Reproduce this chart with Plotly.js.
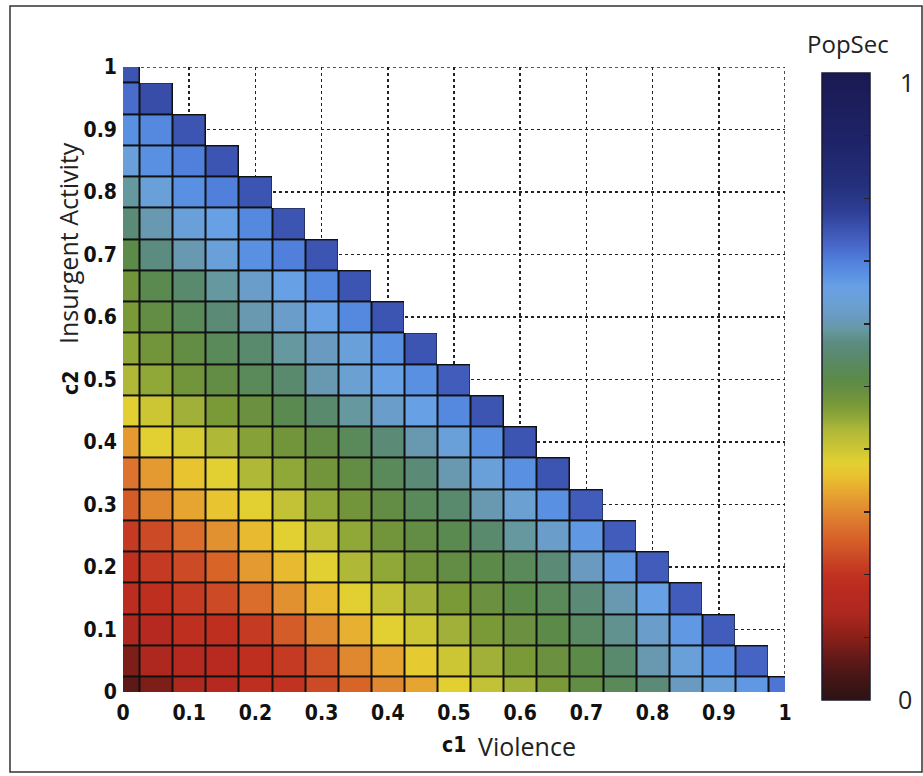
<!DOCTYPE html>
<html><head><meta charset="utf-8">
<script src="https://cdn.plot.ly/plotly-3.0.1.min.js"></script>
<style>html,body{margin:0;padding:0;background:#fff;overflow:hidden}#chart{width:923px;height:776px}</style>
</head><body><div id="chart"></div>
<script>
// c1 = Violence (x), c2 = Insurgent Activity (y)
const c1Values = [0,0.05,0.1,0.15,0.2,0.25,0.3,0.35,0.4,0.45,0.5,0.55,0.6,0.65,0.7,0.75,0.8,0.85,0.9,0.95,1];
const c2Values = [0,0.05,0.1,0.15,0.2,0.25,0.3,0.35,0.4,0.45,0.5,0.55,0.6,0.65,0.7,0.75,0.8,0.85,0.9,0.95,1];
const axisTickVals = [0,0.1,0.2,0.3,0.4,0.5,0.6,0.7,0.8,0.9,1];
const axisTickText = ['0','0.1','0.2','0.3','0.4','0.5','0.6','0.7','0.8','0.9','1'];
const colorbarTickVals = [0,0.1,0.2,0.3,0.4,0.5,0.6,0.7,0.8,0.9,1];

// PopSec values, one row per c2 value (c2 = 0 first), columns follow c1 from 0
const popSecRows = [
  [0.06,0.09,0.14,0.16,0.19,0.20,0.23,0.26,0.30,0.33,0.38,0.41,0.44,0.47,0.50,0.53,0.56,0.61,0.64,0.67,0.71],
  [0.09,0.14,0.16,0.17,0.19,0.21,0.24,0.30,0.33,0.37,0.40,0.44,0.47,0.49,0.51,0.55,0.60,0.64,0.68,0.73],
  [0.14,0.16,0.19,0.19,0.21,0.25,0.30,0.34,0.38,0.40,0.44,0.47,0.49,0.51,0.54,0.58,0.62,0.67,0.74],
  [0.18,0.19,0.21,0.23,0.27,0.31,0.35,0.38,0.41,0.44,0.47,0.49,0.51,0.53,0.56,0.60,0.66,0.74],
  [0.19,0.21,0.23,0.26,0.32,0.35,0.38,0.43,0.45,0.48,0.50,0.51,0.53,0.56,0.61,0.67,0.74],
  [0.21,0.23,0.27,0.31,0.35,0.38,0.41,0.45,0.48,0.50,0.52,0.55,0.59,0.62,0.67,0.74],
  [0.25,0.30,0.33,0.36,0.38,0.41,0.45,0.48,0.50,0.53,0.55,0.60,0.63,0.68,0.74],
  [0.28,0.32,0.36,0.38,0.43,0.45,0.48,0.50,0.53,0.56,0.60,0.64,0.68,0.75],
  [0.32,0.38,0.39,0.43,0.46,0.48,0.50,0.53,0.56,0.60,0.64,0.68,0.75],
  [0.38,0.40,0.44,0.47,0.49,0.52,0.55,0.59,0.62,0.66,0.69,0.75],
  [0.43,0.45,0.48,0.50,0.53,0.55,0.60,0.63,0.66,0.68,0.74],
  [0.45,0.48,0.50,0.53,0.55,0.59,0.61,0.64,0.68,0.75],
  [0.47,0.50,0.53,0.56,0.60,0.62,0.66,0.69,0.75],
  [0.48,0.52,0.55,0.59,0.62,0.66,0.69,0.75],
  [0.51,0.57,0.60,0.64,0.68,0.70,0.75],
  [0.56,0.60,0.64,0.66,0.69,0.75],
  [0.59,0.64,0.68,0.70,0.75],
  [0.64,0.68,0.70,0.75],
  [0.68,0.69,0.75],
  [0.72,0.76],
  [0.75]
];

const popSecScale = [
  [0.00,'#2e1214'],[0.04,'#481616'],[0.07,'#661a18'],[0.10,'#8a2018'],[0.14,'#ae2820'],
  [0.17,'#b82a20'],[0.20,'#c23220'],[0.22,'#c84224'],[0.24,'#d05428'],[0.26,'#d86428'],
  [0.28,'#dc7430'],[0.30,'#e08830'],[0.32,'#e49a30'],[0.34,'#e8b030'],[0.36,'#e8c430'],
  [0.38,'#e2d032'],[0.40,'#ccc634'],[0.43,'#b0b838'],[0.45,'#90a838'],[0.47,'#7a9a38'],
  [0.49,'#6a9040'],[0.51,'#5c8a48'],[0.53,'#5a8a5a'],[0.55,'#5a8a6e'],[0.57,'#5c8c80'],
  [0.59,'#6698a0'],[0.61,'#6a9ac0'],[0.63,'#6aa0d2'],[0.66,'#68a0e6'],[0.68,'#5a90e2'],
  [0.70,'#5080dc'],[0.72,'#4a6ccc'],[0.75,'#3c54b2'],[0.78,'#2e3e94'],[0.82,'#24307c'],
  [0.90,'#1e2266'],[1.00,'#1a1a52']
];

const z = popSecRows.map(r => c1Values.map((_, i) => i < r.length ? r[i] : null));
const zOutline = z.map(r => r.map(v => v === null ? null : 1));

const L = 123, R = 785, T = 67, B = 692;
const pw = R - L, ph = B - T;
const px = x => (x - L) / pw;
const py = y => (B - y) / ph;
const cbTop = 73, cbBot = 700, cbLeft = 822, cbThick = 48;

const tickFont = {family: "'DejaVu Sans Condensed', 'DejaVu Sans', sans-serif", size: 21, weight: 'bold', color: '#111'};
const labelFont = {family: "'Open Sans', sans-serif", size: 25, color: '#222'};

const traces = [
  {type: 'heatmap', x: c1Values, y: c2Values, z: zOutline, zmin: 0, zmax: 1,
   colorscale: [[0, '#111'], [1, '#111']], showscale: false, hoverinfo: 'skip'},
  {type: 'heatmap', x: c1Values, y: c2Values, z: z, zmin: 0, zmax: 1,
   colorscale: popSecScale, xgap: 2, ygap: 2,
   colorbar: {
     x: px(cbLeft), xanchor: 'left', xpad: 0, thickness: cbThick, thicknessmode: 'pixels',
     len: (cbBot - cbTop) / ph, lenmode: 'fraction', y: py((cbTop + cbBot) / 2), yanchor: 'middle', ypad: 0,
     outlinewidth: 1.5, outlinecolor: '#1a1a30',
     tickmode: 'array', tickvals: colorbarTickVals, ticktext: colorbarTickVals.map(() => ''),
     ticks: 'inside', ticklen: 6, tickwidth: 1.5, tickcolor: '#222'
   }}
];

const shapes = colorbarTickVals.filter(v => v > 0 && v < 1).map(v => ({
  type: 'line', xref: 'paper', yref: 'paper',
  x0: px(cbLeft), x1: px(cbLeft + 6),
  y0: py(cbBot - v * (cbBot - cbTop)), y1: py(cbBot - v * (cbBot - cbTop)),
  line: {color: '#222', width: 1.5}
}));
// dashed box edges at c1 = 1 and c2 = 1
shapes.push({type: 'line', xref: 'x', yref: 'y', x0: axisTickVals[10], x1: axisTickVals[10], y0: axisTickVals[0], y1: axisTickVals[10],
  line: {color: '#222', width: 1.6, dash: '3px,3px'}, layer: 'below'});
shapes.push({type: 'line', xref: 'x', yref: 'y', x0: axisTickVals[0], x1: axisTickVals[10], y0: axisTickVals[10], y1: axisTickVals[10],
  line: {color: '#222', width: 1.6, dash: '3px,3px'}, layer: 'below'});
shapes.push({type: 'rect', xref: 'paper', yref: 'paper', x0: px(10), x1: px(922), y0: py(772), y1: py(6),
  line: {color: '#333', width: 1.5}, layer: 'below'});

const annotations = [
  {text: '<b>c1</b>', x: px(440), xanchor: 'left', y: py(745), yanchor: 'middle', font: tickFont},
  {text: 'Violence', x: px(476), xanchor: 'left', y: py(746), yanchor: 'middle', font: labelFont},
  {text: '<b>c2</b>', x: px(71), xanchor: 'center', y: py(383), yanchor: 'middle', textangle: -90, font: tickFont},
  {text: 'Insurgent Activity', x: px(68), xanchor: 'center', y: py(243), yanchor: 'middle', textangle: -90, font: labelFont},
  {text: 'PopSec', x: px(848), xanchor: 'center', y: py(43), yanchor: 'middle', font: {family: "'Open Sans', sans-serif", size: 24, color: '#222'}},
  {text: '1', x: px(907), xanchor: 'center', y: py(82), yanchor: 'middle', font: labelFont},
  {text: '0', x: px(905), xanchor: 'center', y: py(699), yanchor: 'middle', font: labelFont}
].map(a => Object.assign({xref: 'paper', yref: 'paper', showarrow: false}, a));

const axisCommon = {
  range: [0, 1], tickmode: 'array', tickvals: axisTickVals, ticktext: axisTickText,
  showgrid: true, gridcolor: '#222', griddash: '3px,3px', gridwidth: 1.6,
  zeroline: false, showline: false, ticks: '', tickfont: tickFont, fixedrange: true
};

const layout = {
  width: 923, height: 776,
  margin: {l: L, r: 923 - R, t: T, b: 776 - B, pad: 0},
  paper_bgcolor: '#fff', plot_bgcolor: '#fff',
  xaxis: Object.assign({}, axisCommon, {ticklabelstandoff: 6}),
  yaxis: Object.assign({}, axisCommon, {ticklabelstandoff: 5}),
  shapes: shapes, annotations: annotations, showlegend: false
};

Plotly.newPlot('chart', traces, layout, {displayModeBar: false, staticPlot: true});
</script></body></html>
